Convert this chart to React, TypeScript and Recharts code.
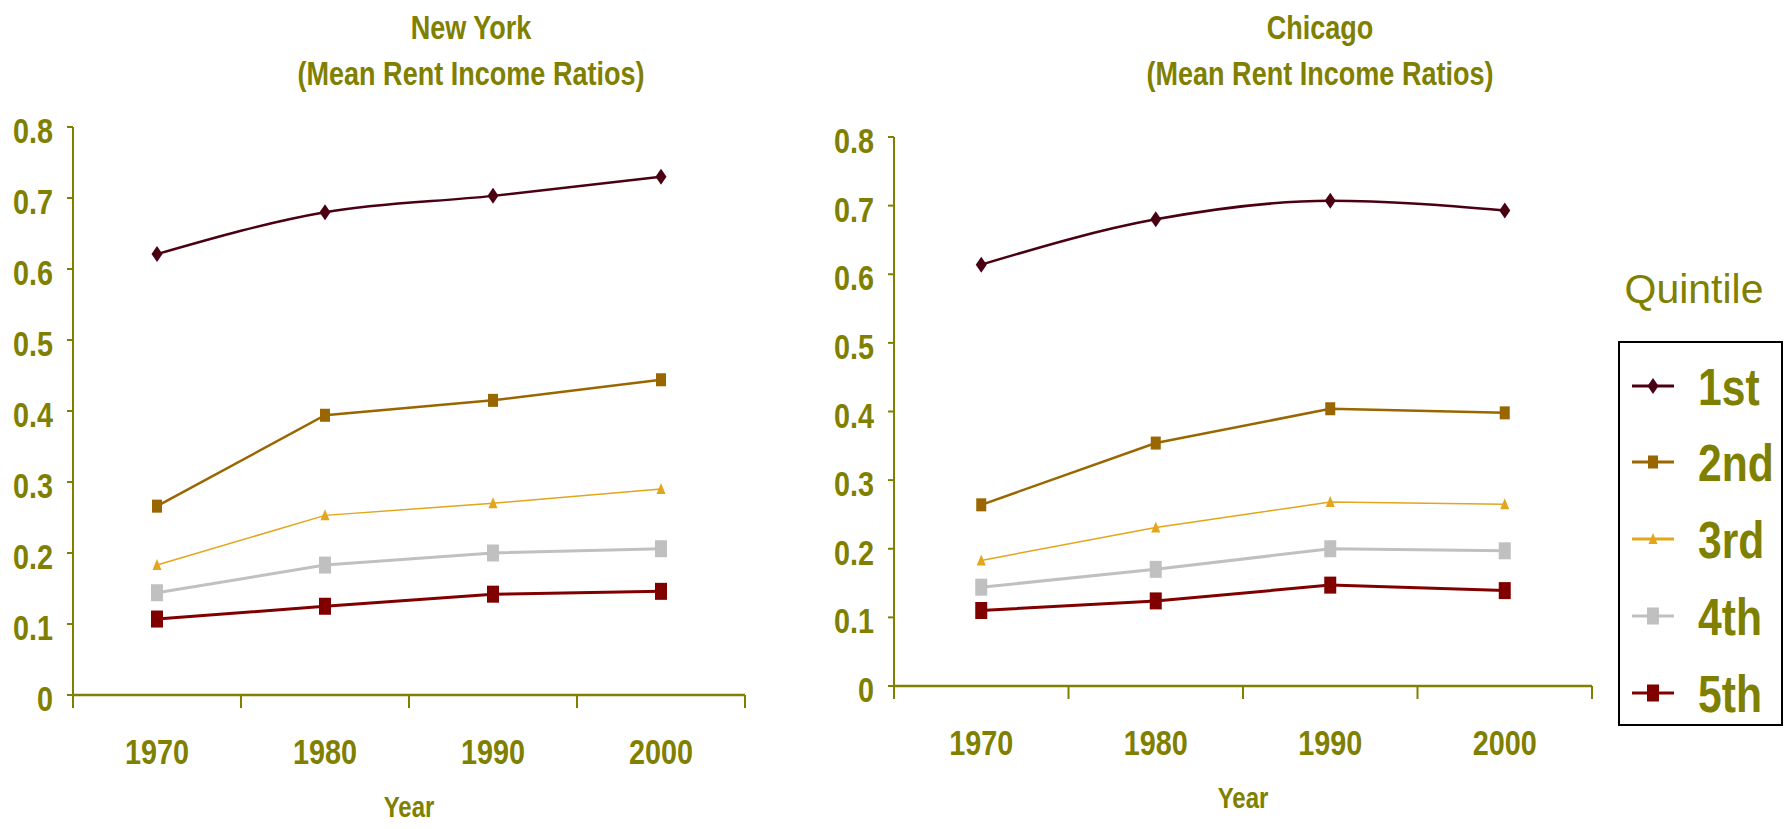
import React from 'react';
import { LineChart, Line, XAxis, YAxis, Label } from 'recharts';

// ---------- data ----------
const years = ['1970', '1980', '1990', '2000'];
const quintiles = ['1st', '2nd', '3rd', '4th', '5th'];

const nyFirst = [0.621, 0.68, 0.703, 0.73];
const nySecond = [0.266, 0.394, 0.415, 0.444];
const nyThird = [0.183, 0.253, 0.27, 0.29];
const nyFourth = [0.144, 0.183, 0.2, 0.206];
const nyFifth = [0.107, 0.125, 0.142, 0.146];

const chiFirst = [0.614, 0.68, 0.707, 0.693];
const chiSecond = [0.264, 0.354, 0.404, 0.398];
const chiThird = [0.183, 0.231, 0.268, 0.265];
const chiFourth = [0.144, 0.17, 0.2, 0.197];
const chiFifth = [0.11, 0.124, 0.147, 0.139];

const yTicks = [0, 0.1, 0.2, 0.3, 0.4, 0.5, 0.6, 0.7, 0.8];

// ---------- styles ----------
const OLIVE = '#808000';
const BOLD_FONT = "'Liberation Sans', Arial, sans-serif";
const REGULAR = "'Liberation Sans', Arial, sans-serif";
const NARROW_SCALE = 0.8;
const COLORS = ['#4a0012', '#996600', '#e3a51a', '#c0c0c0', '#800000'];
const WIDTHS = [2.5, 2.5, 1.5, 3, 3];
const SHAPES = ['diamond', 'square', 'triangle', 'bigsquare', 'bigsquare'];

const buildData = (s: number[][]) =>
  years.map((year, i) => ({
    x: i + 0.5,
    year,
    s1: s[0][i],
    s2: s[1][i],
    s3: s[2][i],
    s4: s[3][i],
    s5: s[4][i],
  }));

const nyData = buildData([nyFirst, nySecond, nyThird, nyFourth, nyFifth]);
const chiData = buildData([chiFirst, chiSecond, chiThird, chiFourth, chiFifth]);

const xTicks: number[] = [];
for (let i = 0; i <= years.length * 2; i++) xTicks.push(i / 2);

function NarrowText({
  x,
  y,
  size,
  anchor = 'middle',
  children,
  scale = NARROW_SCALE,
}: {
  x: number;
  y: number;
  size: number;
  anchor?: string;
  children: React.ReactNode;
  scale?: number;
}) {
  return (
    <text
      transform={`translate(${x},${y}) scale(${scale},1)`}
      x={0}
      y={0}
      textAnchor={anchor as any}
      fill={OLIVE}
      fontFamily={BOLD_FONT}
      fontWeight="bold"
      fontSize={size}
    >
      {children}
    </text>
  );
}

function Marker({ shape, cx, cy, color }: { shape: string; cx: number; cy: number; color: string }) {
  if (shape === 'diamond') {
    return <path d={`M${cx},${cy - 8} L${cx + 5.5},${cy} L${cx},${cy + 8} L${cx - 5.5},${cy} Z`} fill={color} />;
  }
  if (shape === 'square') {
    return <rect x={cx - 5} y={cy - 6.5} width={10} height={13} fill={color} />;
  }
  if (shape === 'triangle') {
    return <path d={`M${cx},${cy - 6} L${cx + 4.5},${cy + 5} L${cx - 4.5},${cy + 5} Z`} fill={color} />;
  }
  return <rect x={cx - 6} y={cy - 8.5} width={12} height={17} fill={color} />;
}

const XTick = (props: any) => {
  const { x, y, payload } = props;
  const v = payload.value as number;
  if (Number.isInteger(v)) {
    return <line x1={x} x2={x} y1={y} y2={y + 13} stroke={OLIVE} strokeWidth={2} />;
  }
  return (
    <NarrowText x={x} y={y + 69} size={36}>
      {years[Math.floor(v)]}
    </NarrowText>
  );
};

const YTick = (props: any) => {
  const { x, y, payload } = props;
  const v = payload.value as number;
  return (
    <NarrowText x={x} y={y + 16} size={36} anchor="end">
      {v === 0 ? '0' : v.toFixed(1)}
    </NarrowText>
  );
};

function Panel({
  data,
  left,
  width,
  top,
  yAxisWidth,
  xAxisHeight,
  rightMargin,
  yearOffset,
}: {
  data: any[];
  left: number;
  width: number;
  top: number;
  yAxisWidth: number;
  xAxisHeight: number;
  rightMargin: number;
  yearOffset: number;
}) {
  return (
    <div style={{ position: 'absolute', left, top: 0 }}>
      <LineChart width={width} height={829} data={data} margin={{ top, right: rightMargin, left: 0, bottom: 0 }}>
        <XAxis
          dataKey="x"
          type="number"
          domain={[0, years.length]}
          ticks={xTicks}
          interval={0}
          tickSize={0}
          tickMargin={0}
          tickLine={false}
          tick={<XTick />}
          height={xAxisHeight}
          axisLine={{ stroke: OLIVE, strokeWidth: 2.5 }}
        >
          <Label
            content={(p: any) => {
              const vb = p.viewBox;
              return (
                <NarrowText x={vb.x + vb.width / 2} y={vb.y + vb.height - yearOffset} size={30}>
                  Year
                </NarrowText>
              );
            }}
          />
        </XAxis>
        <YAxis
          type="number"
          domain={[0, 0.8]}
          ticks={yTicks}
          interval={0}
          width={yAxisWidth}
          tickSize={6}
          tickMargin={14}
          axisLine={{ stroke: OLIVE, strokeWidth: 2 }}
          tickLine={{ stroke: OLIVE, strokeWidth: 2 }}
          tick={<YTick />}
        />
        {quintiles.map((q, i) => (
          <Line
            key={q}
            name={q}
            dataKey={`s${i + 1}`}
            type={i === 0 ? 'monotone' : 'linear'}
            stroke={COLORS[i]}
            strokeWidth={WIDTHS[i]}
            isAnimationActive={false}
            activeDot={false}
            dot={(p: any) => (
              <Marker key={`${q}-${p.index}`} shape={SHAPES[i]} cx={p.cx} cy={p.cy} color={COLORS[i]} />
            )}
          />
        ))}
      </LineChart>
    </div>
  );
}

const legendY = [386, 462, 539, 616, 693];

export default function App() {
  return (
    <div
      style={{
        position: 'absolute',
        left: 0,
        top: 0,
        width: 1787,
        height: 829,
        background: '#ffffff',
        overflow: 'hidden',
      }}
    >
      <Panel data={nyData} left={0} width={760} top={127} yAxisWidth={73} xAxisHeight={134} rightMargin={15} yearOffset={12} />
      <Panel data={chiData} left={800} width={800} top={137} yAxisWidth={94} xAxisHeight={143} rightMargin={8} yearOffset={21} />
      <svg
        width={1787}
        height={829}
        style={{ position: 'absolute', left: 0, top: 0, pointerEvents: 'none' }}
      >
        <NarrowText x={471} y={39} size={33} scale={0.82}>New York</NarrowText>
        <NarrowText x={471} y={85} size={33} scale={0.82}>(Mean Rent Income Ratios)</NarrowText>
        <NarrowText x={1320} y={39} size={33} scale={0.82}>Chicago</NarrowText>
        <NarrowText x={1320} y={85} size={33} scale={0.82}>(Mean Rent Income Ratios)</NarrowText>
        <text x={1694} y={303} textAnchor="middle" fill={OLIVE} fontFamily={REGULAR} fontSize={41}>
          Quintile
        </text>
        <rect x={1619} y={342} width={163} height={383} fill="none" stroke="#000" strokeWidth={2} />
        {quintiles.map((q, i) => (
          <g key={q}>
            <line x1={1632} x2={1674} y1={legendY[i]} y2={legendY[i]} stroke={COLORS[i]} strokeWidth={3} />
            <Marker shape={SHAPES[i]} cx={1653} cy={legendY[i]} color={COLORS[i]} />
            <NarrowText x={1698} y={legendY[i] + 19} size={52} anchor="start" scale={0.82}>
              {q}
            </NarrowText>
          </g>
        ))}
      </svg>
    </div>
  );
}
